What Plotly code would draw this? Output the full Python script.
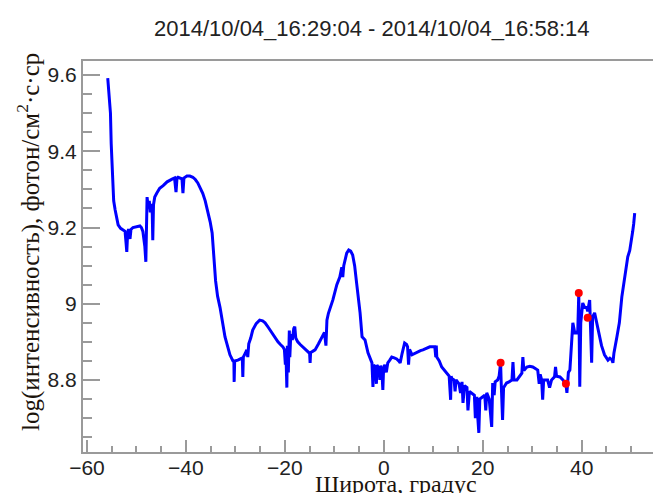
import plotly.graph_objects as go

# Latitude (degrees) and log intensity along the orbit track
latitude = [
    -55.8, -55.5, -55.25, -55.1, -54.95, -54.8, -54.6, -54.3, -54.0, -53.7,
    -53.2, -52.7, -52.3, -52.1, -51.95, -51.8, -51.6, -51.3, -51.1, -50.7,
    -50.2, -49.7, -49.3, -49.0, -48.7, -48.5, -48.3, -48.1, -47.95, -47.85,
    -47.6, -47.4, -47.2, -47.0, -46.8, -46.7, -46.55, -46.3, -45.9, -45.3,
    -44.6, -43.8, -42.8, -42.3, -42.0, -41.8, -41.6, -41.2, -40.8, -40.6,
    -40.4, -39.8, -39.2, -38.6, -38.1, -37.6, -37.1, -36.6, -36.1, -35.6,
    -35.1, -34.7, -34.3, -34.0, -33.6, -33.1, -32.1, -31.1, -30.5, -30.3,
    -30.25, -30.15, -29.5, -28.9, -28.6, -28.5, -28.4, -28.0, -27.7, -27.5,
    -27.3, -26.9, -26.5, -25.8, -25.1, -24.5, -24.0, -23.3, -22.6, -22.0,
    -21.4, -20.9, -20.4, -20.1, -19.9, -19.8, -19.6, -19.5, -19.3, -19.1,
    -19.0, -18.8, -18.5, -18.2, -18.0, -17.8, -17.4, -16.9, -16.4, -15.9,
    -15.4, -15.0, -14.9, -14.8, -14.4, -13.9, -13.2, -12.5, -12.0, -11.7,
    -11.6, -11.5, -11.2, -10.9, -10.3, -9.5, -8.9, -8.5, -8.3, -8.1,
    -7.5, -7.1, -6.7, -6.3, -5.9, -5.5, -5.1, -4.8, -4.4, -3.8,
    -3.2, -2.8, -2.4, -2.2, -2.05, -1.7, -1.5, -1.4, -1.0, -0.8,
    -0.6, -0.3, -0.2, -0.05, 0.2, 0.5, 0.8, 1.2, 1.6, 2.1,
    2.6, 3.0, 3.3, 3.7, 4.2, 4.6, 4.8, 5.0, 5.2, 5.7,
    6.3, 6.9, 7.4, 7.9, 8.6, 9.3, 9.8, 10.3, 10.5, 10.6,
    10.7, 11.2, 11.7, 12.2, 12.7, 13.2, 13.5, 13.6, 13.7, 14.2,
    14.4, 14.6, 15.2, 15.5, 15.8, 16.0, 16.3, 16.8, 17.0, 17.3,
    17.8, 18.3, 18.5, 18.8, 19.0, 19.2, 19.4, 20.0, 20.4, 20.6,
    20.8, 21.3, 21.6, 21.8, 22.0, 22.3, 22.5, 23.0, 23.3, 23.6,
    23.7, 23.9, 24.0, 24.2, 24.8, 25.3, 25.9, 26.1, 26.3, 26.9,
    27.4, 27.9, 28.1, 28.3, 28.9, 29.5, 30.1, 30.6, 31.1, 31.4,
    31.6, 31.9, 32.1, 32.3, 33.1, 33.5, 33.9, 34.5, 34.7, 34.9,
    35.6, 36.2, 36.8, 37.0, 37.3, 37.6, 38.0, 38.2, 38.6, 39.0,
    39.2, 39.4, 39.5, 39.6, 39.8, 40.2, 40.6, 41.0, 41.2, 41.6,
    42.0, 42.2, 42.6, 43.2, 43.6, 44.0, 44.6, 45.3, 45.7, 46.1,
    46.3, 46.5, 47.1, 47.6, 48.1, 48.7, 49.3, 49.7, 50.1, 50.3,
    50.5, 50.7,
]
log_intensity = [
    9.592, 9.55, 9.50, 9.42, 9.36, 9.30, 9.27, 9.246, 9.225, 9.207,
    9.198, 9.193, 9.19, 9.16, 9.136, 9.18, 9.196, 9.17, 9.195, 9.200,
    9.202, 9.203, 9.204, 9.20, 9.19, 9.17, 9.15, 9.11, 9.22, 9.28,
    9.25, 9.27, 9.24, 9.262, 9.235, 9.167, 9.26, 9.28, 9.29, 9.303,
    9.31, 9.32, 9.327, 9.33, 9.293, 9.33, 9.332, 9.33, 9.328, 9.29,
    9.33, 9.335, 9.335, 9.332, 9.326, 9.317, 9.305, 9.29, 9.27, 9.246,
    9.215, 9.186, 9.12, 9.06, 9.02, 8.99, 8.913, 8.866, 8.85, 8.847,
    8.795, 8.85, 8.852, 8.855, 8.858, 8.808, 8.86, 8.87, 8.879, 8.86,
    8.895, 8.91, 8.931, 8.948, 8.957, 8.955, 8.95, 8.937, 8.923, 8.91,
    8.90, 8.893, 8.887, 8.88, 8.84, 8.88, 8.78, 8.89, 8.82, 8.93,
    8.86, 8.92, 8.905, 8.935, 8.94, 8.91, 8.90, 8.893, 8.887, 8.88,
    8.873, 8.87, 8.845, 8.872, 8.875, 8.879, 8.895, 8.913, 8.925, 8.89,
    8.93, 8.957, 8.975, 8.985, 9.01, 9.05, 9.07, 9.096, 9.07, 9.10,
    9.133, 9.141, 9.138, 9.128, 9.10, 9.054, 9.01, 8.976, 8.913, 8.905,
    8.871, 8.855, 8.845, 8.782, 8.84, 8.83, 8.79, 8.839, 8.83, 8.80,
    8.838, 8.80, 8.774, 8.83, 8.84, 8.82, 8.845, 8.852, 8.86, 8.858,
    8.855, 8.85, 8.845, 8.87, 8.897, 8.893, 8.887, 8.84, 8.88, 8.866,
    8.87, 8.875, 8.877, 8.879, 8.883, 8.887, 8.887, 8.887, 8.86, 8.89,
    8.86, 8.85, 8.834, 8.826, 8.818, 8.81, 8.748, 8.81, 8.805, 8.80,
    8.77, 8.80, 8.79, 8.766, 8.795, 8.74, 8.785, 8.78, 8.72, 8.77,
    8.766, 8.76, 8.70, 8.756, 8.70, 8.661, 8.75, 8.757, 8.76, 8.72,
    8.766, 8.75, 8.70, 8.677, 8.792, 8.76, 8.795, 8.80, 8.81, 8.845,
    8.80, 8.75, 8.695, 8.78, 8.792, 8.795, 8.80, 8.847, 8.80, 8.80,
    8.81, 8.818, 8.86, 8.825, 8.834, 8.836, 8.834, 8.83, 8.826, 8.79,
    8.815, 8.80, 8.748, 8.80, 8.80, 8.78, 8.80, 8.808, 8.834, 8.81,
    8.808, 8.80, 8.79, 8.766, 8.82, 8.826, 8.913, 8.95, 8.923, 8.923,
    8.93, 9.028, 8.90, 8.782, 8.95, 9.002, 8.99, 8.99, 8.98, 9.01,
    8.845, 8.965, 8.976, 8.94, 8.913, 8.89, 8.866, 8.852, 8.857, 8.853,
    8.845, 8.87, 8.913, 8.95, 9.018, 9.07, 9.123, 9.14, 9.167, 9.19,
    9.21, 9.238,
]
assert len(latitude) == len(log_intensity)

# Flagged measurements
flag_latitude = [23.6, 36.8, 39.4, 41.2]
flag_log_intensity = [8.845, 8.79, 9.028, 8.963]

title_text = "2014/10/04_16:29:04 - 2014/10/04_16:58:14"
x_title = "Широта, градус"
y_title = "log(интенсивность), фотон/см<sup>2</sup>·с·ср"

x_ticks = [-60, -40, -20, 0, 20, 40]
y_ticks = [8.8, 9.0, 9.2, 9.4, 9.6]
y_tick_text = ["8.8", "9", "9.2", "9.4", "9.6"]

fig = go.Figure()
fig.add_trace(go.Scatter(
    x=latitude, y=log_intensity, mode="lines",
    line=dict(color="#0000ff", width=3), hoverinfo="skip",
))
fig.add_trace(go.Scatter(
    x=flag_latitude, y=flag_log_intensity, mode="markers",
    marker=dict(color="#ff0000", size=8), hoverinfo="skip",
))

axis_grey = "#9a9a9a"
tick_font = dict(family="Liberation Sans, Arial, sans-serif", size=21, color="#222222")
label_font = dict(family="Liberation Serif, Times New Roman, serif", size=25, color="#1c140c")

fig.update_layout(
    width=653, height=493,
    margin=dict(l=83, r=0, t=61, b=41),
    paper_bgcolor="white", plot_bgcolor="white",
    showlegend=False,
    xaxis=dict(
        range=[-60.8, 54.4], tickvals=x_ticks, ticks="inside", ticklen=12,
        tickwidth=1.5, tickcolor=axis_grey, showline=True, linecolor=axis_grey,
        linewidth=2, mirror=True, showgrid=False, zeroline=False,
        tickfont=tick_font, ticklabelstandoff=-4,
        minor=dict(ticks="inside", ticklen=6, dtick=5, tick0=0,
                   tickcolor=axis_grey, tickwidth=1.5, showgrid=False),
    ),
    yaxis=dict(
        range=[8.611, 9.637], tickvals=y_ticks, ticktext=y_tick_text,
        ticks="inside", ticklen=17,
        tickwidth=1.5, tickcolor=axis_grey, showline=True, linecolor=axis_grey,
        linewidth=2, mirror=False, showgrid=False, zeroline=False,
        tickfont=tick_font,
        minor=dict(ticks="inside", ticklen=9, dtick=0.05, tick0=8.8,
                   tickcolor=axis_grey, tickwidth=1.5, showgrid=False),
    ),
    annotations=[
        dict(text=title_text, xref="paper", yref="paper",
             x=(372 - 83) / 570, y=1 + (61 - 28) / 391, showarrow=False,
             xanchor="center", yanchor="middle",
             font=dict(family="Liberation Sans, Arial, sans-serif", size=22, color="#222222")),
        dict(text=x_title, xref="paper", yref="paper",
             x=(396 - 83) / 570, y=-(484 - 452) / 391, showarrow=False,
             xanchor="center", yanchor="middle",
             font=dict(family="Liberation Serif, Times New Roman, serif", size=24, color="#1c140c")),
        dict(text=y_title, xref="paper", yref="paper", textangle=-90,
             x=(28 - 83) / 570, y=(452 - 242) / 391, showarrow=False,
             xanchor="center", yanchor="middle", font=label_font),
    ],
)

fig.write_html("out.html")
